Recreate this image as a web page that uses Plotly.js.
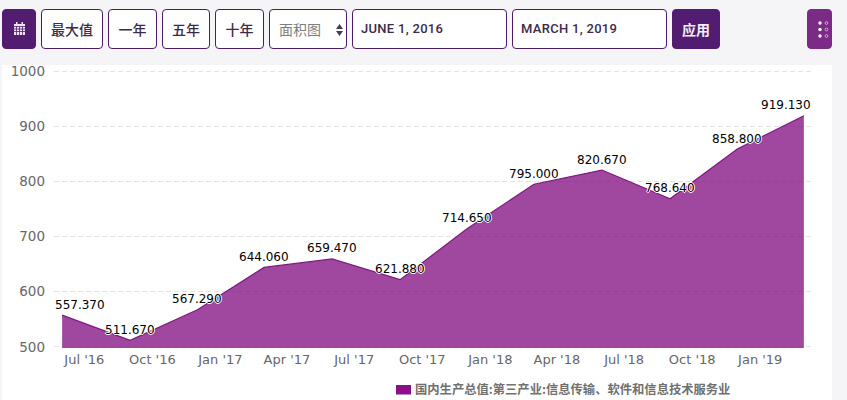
<!DOCTYPE html>
<html>
<head>
<meta charset="utf-8">
<script src="https://cdn.plot.ly/plotly-3.0.1.min.js"></script>
<style>
    html, body { margin: 0; padding: 0; width: 847px; height: 400px; overflow: hidden; background: #f5f5f7; }
    .btn {
        position: absolute; top: 9px; height: 38px; box-sizing: content-box;
        border: 1px solid #4a1d66; border-radius: 4px; background: #fff; color: #3d2a4a;
        text-align: center; font: 500 14px "Noto Sans CJK SC", Roboto, sans-serif; line-height: 38px;
    }
    .date { text-align: left; text-indent: 8px; font-family: Roboto, sans-serif; font-size: 13px; letter-spacing: 0.3px; line-height: 37px; }
    .solid { background: #521d70; border: 1px solid #521d70; color: #f4eef7; }
    #panel { position: absolute; left: 2px; top: 65px; width: 830px; height: 335px; background: #fff; }
    #chart { position: absolute; left: 2px; top: 58px; width: 830px; height: 342px; }
    svg { position: absolute; }
</style>
</head>
<body>
<div class="btn solid" style="left:2px;width:32px;">
    <svg style="left:10px;top:11px;" width="13" height="15" viewBox="0 0 13 15">
        <path fill="#f1e6f5" d="M1 3h11v11H1zM3 1h1.5v3H3zM8.500 1H10v3H8.500z"/>
        <path stroke="#521d70" stroke-width="0.8" d="M1 5.500h11M1 8h11M1 10.500h11M3.500 5.500v8.500M6.500 5.500v8.500M9.500 5.500v8.500"/>
    </svg>
</div>
<div class="btn" style="left:41px;width:60px;">最大值</div>
<div class="btn" style="left:108px;width:47px;">一年</div>
<div class="btn" style="left:162px;width:46px;">五年</div>
<div class="btn" style="left:215px;width:47px;">十年</div>
<div class="btn" style="left:269px;width:76px;text-align:left;text-indent:9px;color:#7d7d7d;font-weight:400;">面积图
    <svg style="left:66px;top:14px;" width="7" height="12" viewBox="0 0 7 12"><path fill="#4a3a58" d="M3.500 0L7 5H0zM0 7h7L3.500 12z"/></svg>
</div>
<div class="btn date" style="left:352px;width:153px;">JUNE 1, 2016</div>
<div class="btn date" style="left:512px;width:153px;">MARCH 1, 2019</div>
<div class="btn solid" style="left:672px;width:46px;font-weight:700;">应用</div>
<div class="btn" style="left:807px;width:23px;background:#7b2a85;border-color:#7b2a85;">
    <svg style="left:10px;top:10px;" width="13" height="19" viewBox="0 0 13 19">
        <g fill="#fff"><circle cx="2" cy="3" r="1.700"/><circle cx="2" cy="9.500" r="1.700"/><circle cx="2" cy="16" r="1.700"/></g>
        <g fill="none" stroke="#e6d3ea" stroke-width="0.7"><circle cx="8.500" cy="3" r="1.400"/><circle cx="8.500" cy="9.500" r="1.400"/><circle cx="8.500" cy="16" r="1.400"/></g>
    </svg>
</div>
<div id="panel"></div>
<div id="chart"></div>
<script>
// Quarterly values, as labelled on the chart
const dates = ['2016-06-01', '2016-09-01', '2016-12-01', '2017-03-01', '2017-06-01', '2017-09-01',
               '2017-12-01', '2018-03-01', '2018-06-01', '2018-09-01', '2018-12-01', '2019-03-01'];
const values = [557.37, 511.67, 567.29, 644.06, 659.47, 621.88, 714.65, 795.0, 820.67, 768.64, 858.8, 919.13];

const tickDates = ['2016-07-01', '2016-10-01', '2017-01-01', '2017-04-01', '2017-07-01', '2017-10-01',
                   '2018-01-01', '2018-04-01', '2018-07-01', '2018-10-01', '2019-01-01'];
const tickLabels = ["Jul '16", "Oct '16", "Jan '17", "Apr '17", "Jul '17", "Oct '17",
                    "Jan '18", "Apr '18", "Jul '18", "Oct '18", "Jan '19"];
const yTicks = [500, 600, 700, 800, 900, 1000];
const seriesName = '国内生产总值:第三产业:信息传输、软件和信息技术服务业';

const halo = '-1px 0 0 #fff, 1px 0 0 #fff, 0 -1px 0 #fff, 0 1px 0 #fff';

const trace = {
    x: dates,
    y: values,
    type: 'scatter',
    mode: 'lines',
    name: seriesName,
    fill: 'tozeroy',
    fillcolor: 'rgba(128, 10, 128, 0.75)',
    line: { color: '#7d1a7c', width: 1.2 },
    hoverinfo: 'x+y'
};

// Value labels sit above the points, first and last get pushed inside the plot
const valueLabels = values.map((v, i) => ({
    x: dates[i],
    y: v,
    text: v.toFixed(3),
    showarrow: false,
    xanchor: 'center',
    yanchor: 'middle',
    xshift: i === 0 ? 18 : i === values.length - 1 ? -18 : 0,
    yshift: 10.5,
    font: { family: 'DejaVu Sans', size: 12, color: '#000', shadow: halo }
}));

const layout = {
    width: 830,
    height: 342,
    margin: { l: 52, r: 20, t: 12, b: 52 },
    paper_bgcolor: 'rgba(0,0,0,0)',
    plot_bgcolor: 'rgba(0,0,0,0)',
    showlegend: false,
    font: { family: 'DejaVu Sans', color: '#666' },
    xaxis: {
        type: 'date',
        range: ['2016-05-21', '2019-03-12'],
        tickvals: tickDates,
        ticktext: tickLabels,
        tickfont: { size: 13, color: '#666' },
        showgrid: false,
        zeroline: false,
        ticks: '',
        ticklabelstandoff: 2
    },
    yaxis: {
        // a hair past 500 and 1000 so both end gridlines get drawn
        range: [497.8, 1002.2],
        tickvals: yTicks,
        tickfont: { size: 13.5, color: '#666' },
        gridcolor: '#e2e2e2',
        griddash: '5px,3px',
        gridwidth: 1,
        zeroline: false,
        ticks: '',
        ticklabelstandoff: 8
    },
    shapes: [{
        type: 'rect', xref: 'paper', yref: 'paper',
        xsizemode: 'pixel', ysizemode: 'pixel', xanchor: 0, yanchor: 0,
        x0: 342, x1: 357, y0: -46.5, y1: -37,
        fillcolor: '#8b0e8b', line: { width: 0 }
    }],
    annotations: valueLabels.concat([{
        xref: 'paper', yref: 'paper', x: 0, y: 0,
        xanchor: 'left', yanchor: 'middle', showarrow: false,
        xshift: 359, yshift: -40.5,
        text: '<b>' + seriesName + '</b>',
        font: { family: 'Noto Sans CJK SC', size: 12.3, color: '#707070' }
    }])
};

Plotly.newPlot('chart', [trace], layout, { displayModeBar: false, responsive: false });
</script>
</body>
</html>
